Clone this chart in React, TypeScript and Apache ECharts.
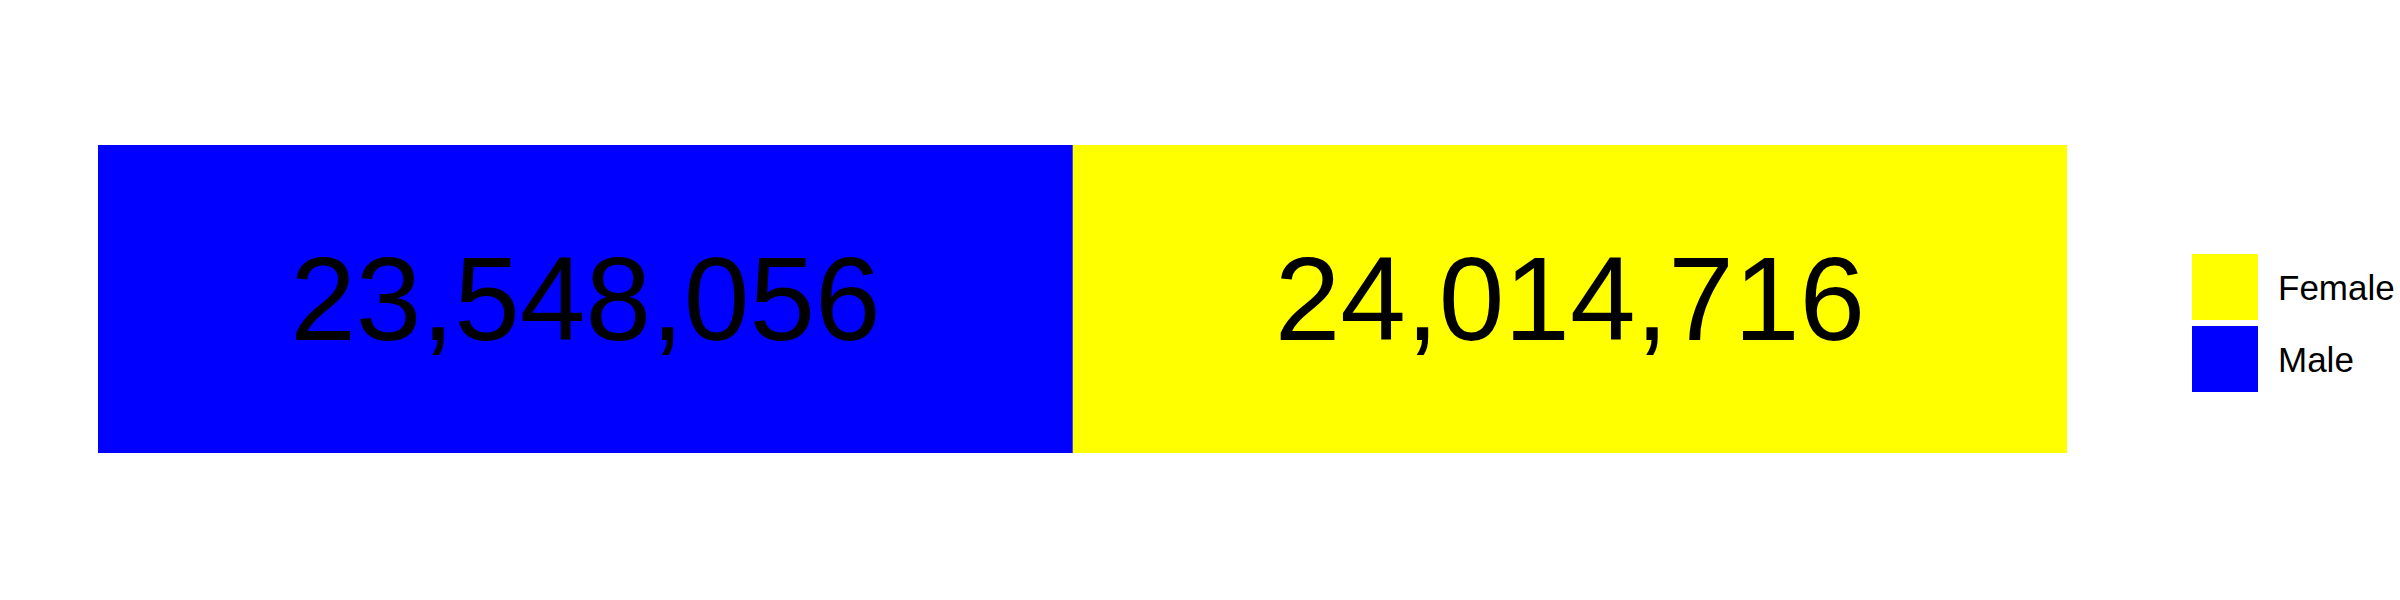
import React, { useEffect, useRef } from "react";
import * as echarts from "echarts";

const categories = ["Population"];
const seriesNames = ["Male", "Female"];
const maleValues = [23548056];
const femaleValues = [24014716];
const seriesColors = ["#0000FF", "#FFFF00"];
const legendOrder = ["Female", "Male"];

export default function App() {
  const ref = useRef<HTMLDivElement>(null);
  useEffect(() => {
    if (!ref.current) return;
    const chart = echarts.init(ref.current, null, { renderer: "svg" });
    const total = maleValues[0] + femaleValues[0];
    const values = [maleValues, femaleValues];
    const font = "'Liberation Sans', Arial, sans-serif";
    chart.setOption({
      animation: false,
      backgroundColor: "#FFFFFF",
      grid: { left: 98, right: 333, top: 145, height: 308, containLabel: false },
      xAxis: { type: "value", min: 0, max: total, show: false },
      yAxis: { type: "category", data: categories, show: false },
      legend: {
        orient: "vertical",
        left: 2192,
        top: 254,
        padding: 0,
        itemWidth: 66,
        itemHeight: 66,
        itemGap: 6,
        icon: "rect",
        data: legendOrder,
        textStyle: { fontSize: 35, fontFamily: font, color: "#000000", padding: [0, 0, 0, 15] },
      },
      series: seriesNames.map((name, i) => ({
        name,
        type: "bar",
        stack: "total",
        barWidth: "100%",
        data: values[i],
        itemStyle: { color: seriesColors[i] },
        label: {
          show: true,
          position: "inside",
          fontSize: 118,
          fontFamily: font,
          color: "#000000",
          formatter: (p: any) => Number(p.value).toLocaleString("en-US"),
        },
      })),
    });
    return () => chart.dispose();
  }, []);
  return (
    <div
      ref={ref}
      style={{ position: "absolute", left: 0, top: 0, width: 2400, height: 600 }}
    />
  );
}
